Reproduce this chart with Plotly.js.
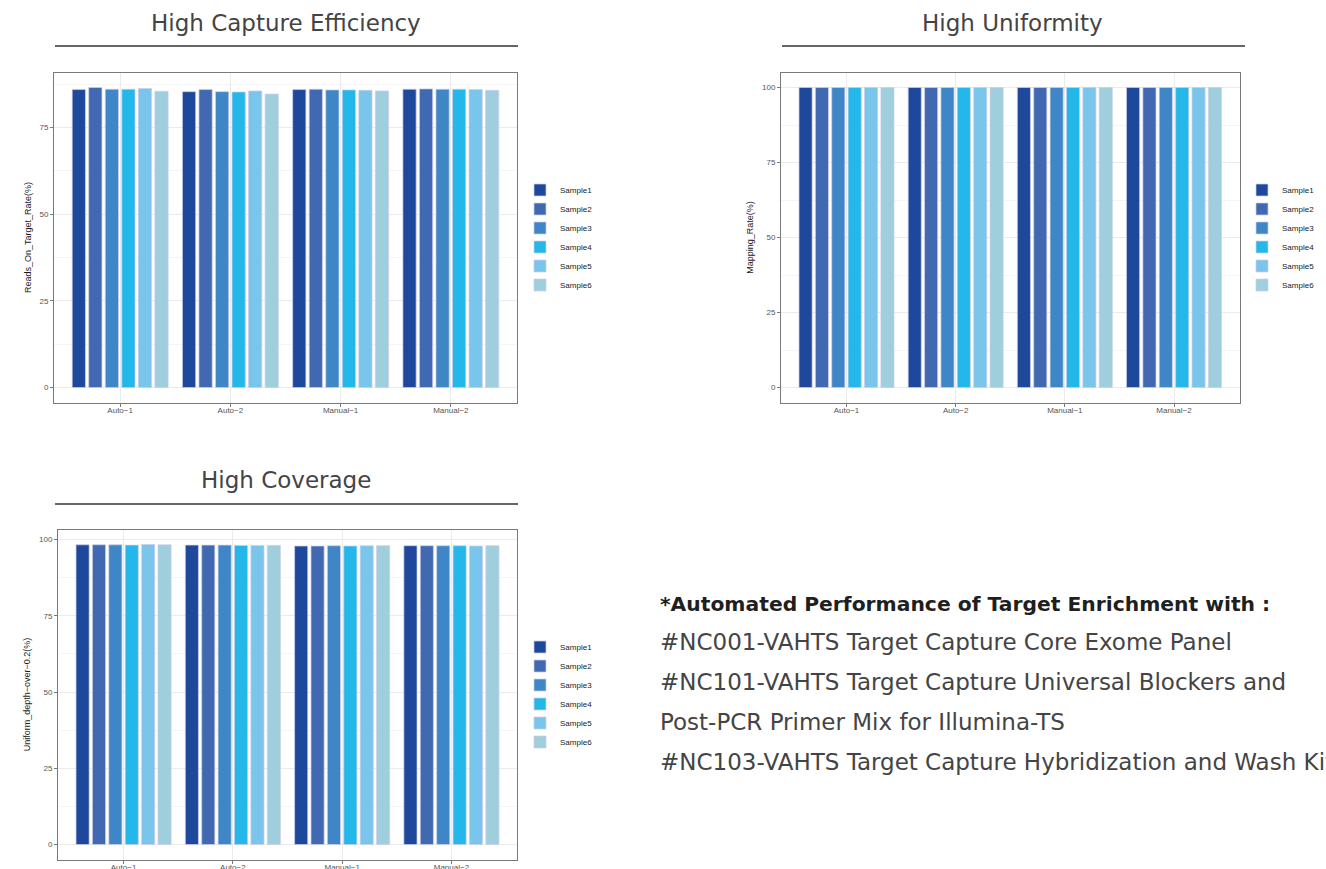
<!DOCTYPE html>
<html>
<head>
<meta charset="utf-8">
<script src="https://cdn.plot.ly/plotly-3.0.1.min.js"></script>
<style>html,body{margin:0;padding:0;background:#fff;}#chart{width:1326px;height:869px;}</style>
</head>
<body>
<div id="chart"></div>
<script>
const W = 1326, H = 869;

const categories = ["Auto\u22121", "Auto\u22122", "Manual\u22121", "Manual\u22122"];
const samples = ["Sample1", "Sample2", "Sample3", "Sample4", "Sample5", "Sample6"];
const sampleColors = ["#1d489c", "#4169b1", "#3f86c6", "#24b8ea", "#79c5ec", "#9fcedc"];

// Reads_On_Target_Rate(%) per sample, across categories
const captureS1 = [85.9, 85.3, 85.9, 86.0];
const captureS2 = [86.5, 85.9, 86.0, 86.1];
const captureS3 = [86.0, 85.3, 85.8, 86.0];
const captureS4 = [86.0, 85.2, 85.8, 86.0];
const captureS5 = [86.2, 85.5, 85.7, 85.9];
const captureS6 = [85.4, 84.6, 85.5, 85.7];

// Mapping_Rate(%)
const mappingS1 = [100, 100, 100, 100];
const mappingS2 = [100, 100, 100, 100];
const mappingS3 = [100, 100, 100, 100];
const mappingS4 = [100, 100, 100, 100];
const mappingS5 = [100, 100, 100, 100];
const mappingS6 = [100, 100, 100, 100];

// Uniform_depth-over-0.2(%)
const uniformS1 = [98.3, 98.2, 97.9, 98.0];
const uniformS2 = [98.3, 98.2, 97.9, 98.0];
const uniformS3 = [98.3, 98.2, 98.0, 98.0];
const uniformS4 = [98.2, 98.1, 97.9, 98.0];
const uniformS5 = [98.4, 98.1, 98.0, 97.9];
const uniformS6 = [98.3, 98.1, 98.0, 98.0];

const panelTitles = ["High Capture Efficiency", "High Uniformity", "High Coverage"];
const yTitles = ["Reads_On_Target_Rate(%)", "Mapping_Rate(%)", "Uniform_depth\u2212over\u22120.2(%)"];
const yTickVals = [0, 25, 50, 75, 100];

const noteLines = [
  "<b>*Automated Performance of Target Enrichment with :</b>",
  "#NC001-VAHTS Target Capture Core Exome Panel",
  "#NC101-VAHTS Target Capture Universal Blockers and",
  "Post-PCR Primer Mix for Illumina-TS",
  "#NC103-VAHTS Target Capture Hybridization and Wash Kit"
];

const panelData = [
  [captureS1, captureS2, captureS3, captureS4, captureS5, captureS6],
  [mappingS1, mappingS2, mappingS3, mappingS4, mappingS5, mappingS6],
  [uniformS1, uniformS2, uniformS3, uniformS4, uniformS5, uniformS6]
];

// Layout geometry (pixels)
const boxes = [
  {x0: 54, x1: 517, y0: 72.5, y1: 402.5},
  {x0: 781, x1: 1239.5, y0: 72.5, y1: 402.5},
  {x0: 58, x1: 517, y0: 529.5, y1: 859.5}
];
const titleGeo = [
  {cx: 286, y: 23, lx0: 55, lx1: 518, ly: 46},
  {cx: 1013, y: 23, lx0: 782, lx1: 1245, ly: 46},
  {cx: 286, y: 480, lx0: 55, lx1: 518, ly: 504}
];
const legendX = [520, 1242, 520];

const px = v => v / W;
const py = v => 1 - v / H;

const TEXT_FONT = "DejaVu Sans, Lato, sans-serif";

const traces = [];
const layout = {
  width: W, height: H,
  margin: {l: 0, r: 0, t: 0, b: 0},
  paper_bgcolor: "#ffffff",
  plot_bgcolor: "#ffffff",
  barmode: "group",
  bargap: 0.1,
  bargroupgap: 0.2,
  showlegend: true,
  font: {family: "Liberation Sans, Arial, sans-serif"},
  annotations: [],
  shapes: []
};

const suffix = ["", "2", "3"];
panelData.forEach((series, p) => {
  const s = suffix[p];
  const b = boxes[p];
  let mx = 0;
  series.forEach(arr => arr.forEach(v => { if (v > mx) mx = v; }));
  series.forEach((vals, i) => {
    traces.push({
      type: "bar",
      x: categories,
      y: vals,
      name: samples[i],
      xaxis: "x" + s,
      yaxis: "y" + s,
      legend: "legend" + s,
      marker: {color: sampleColors[i], line: {color: "rgba(205,205,235,0.9)", width: 0.8}},
      hoverinfo: "x+y+name"
    });
  });
  layout["xaxis" + s] = {
    domain: [px(b.x0), px(b.x1)],
    anchor: "y" + s,
    type: "category",
    range: [-0.6, 3.6],
    showline: true, mirror: true, linecolor: "#7a7a7a", linewidth: 1,
    showgrid: true, gridcolor: "#ebebeb", gridwidth: 1,
    ticks: "outside", ticklen: 3, tickcolor: "#7a7a7a",
    ticklabelstandoff: -3,
    tickfont: {size: 8, color: "#555555", family: "Liberation Sans, Arial, sans-serif"},
    zeroline: false, fixedrange: true
  };
  layout["yaxis" + s] = {
    domain: [py(b.y1), py(b.y0)],
    anchor: "x" + s,
    range: [-0.05 * mx, 1.05 * mx],
    tickmode: "array", tickvals: yTickVals,
    showline: true, mirror: true, linecolor: "#7a7a7a", linewidth: 1,
    showgrid: true, gridcolor: "#ebebeb", gridwidth: 1,
    minor: {tickmode: "array", tickvals: [12.5, 37.5, 62.5, 87.5], showgrid: true, gridcolor: "#f5f5f5", ticklen: 0},
    ticks: "outside", ticklen: 3, tickcolor: "#7a7a7a",
    tickfont: {size: 8, color: "#555555", family: "Liberation Sans, Arial, sans-serif"},
    title: {text: yTitles[p], font: {size: 9, color: "#1a1a1a", family: "Liberation Sans, Arial, sans-serif"}, standoff: 6},
    zeroline: false, fixedrange: true
  };
  layout["legend" + s] = {
    x: px(legendX[p]), xanchor: "left",
    y: py((b.y0 + b.y1) / 2), yanchor: "middle",
    bgcolor: "rgba(0,0,0,0)",
    font: {size: 8, color: "#1a1a1a", family: "Liberation Sans, Arial, sans-serif"},
    tracegroupgap: 0
  };
  const t = titleGeo[p];
  layout.annotations.push({
    xref: "paper", yref: "paper", x: px(t.cx), y: py(t.y),
    xanchor: "center", yanchor: "middle", showarrow: false,
    text: panelTitles[p],
    font: {size: 23, weight: 400, color: "#444444", family: TEXT_FONT}
  });
  layout.shapes.push({
    type: "line", xref: "paper", yref: "paper",
    x0: px(t.lx0), x1: px(t.lx1), y0: py(t.ly), y1: py(t.ly),
    line: {color: "#333333", width: 1.5}
  });
});

const noteY = [604, 642, 682, 722, 762];
noteLines.forEach((txt, i) => {
  layout.annotations.push({
    xref: "paper", yref: "paper", x: px(658), y: py(noteY[i]),
    xanchor: "left", yanchor: "middle", showarrow: false,
    text: txt,
    font: {size: i === 0 ? 20.3 : 23, weight: i === 0 ? 700 : 400, color: i === 0 ? "#1f1f1f" : "#444444", family: TEXT_FONT}
  });
});

Plotly.newPlot("chart", traces, layout, {displayModeBar: false, staticPlot: true});
</script>
</body>
</html>
